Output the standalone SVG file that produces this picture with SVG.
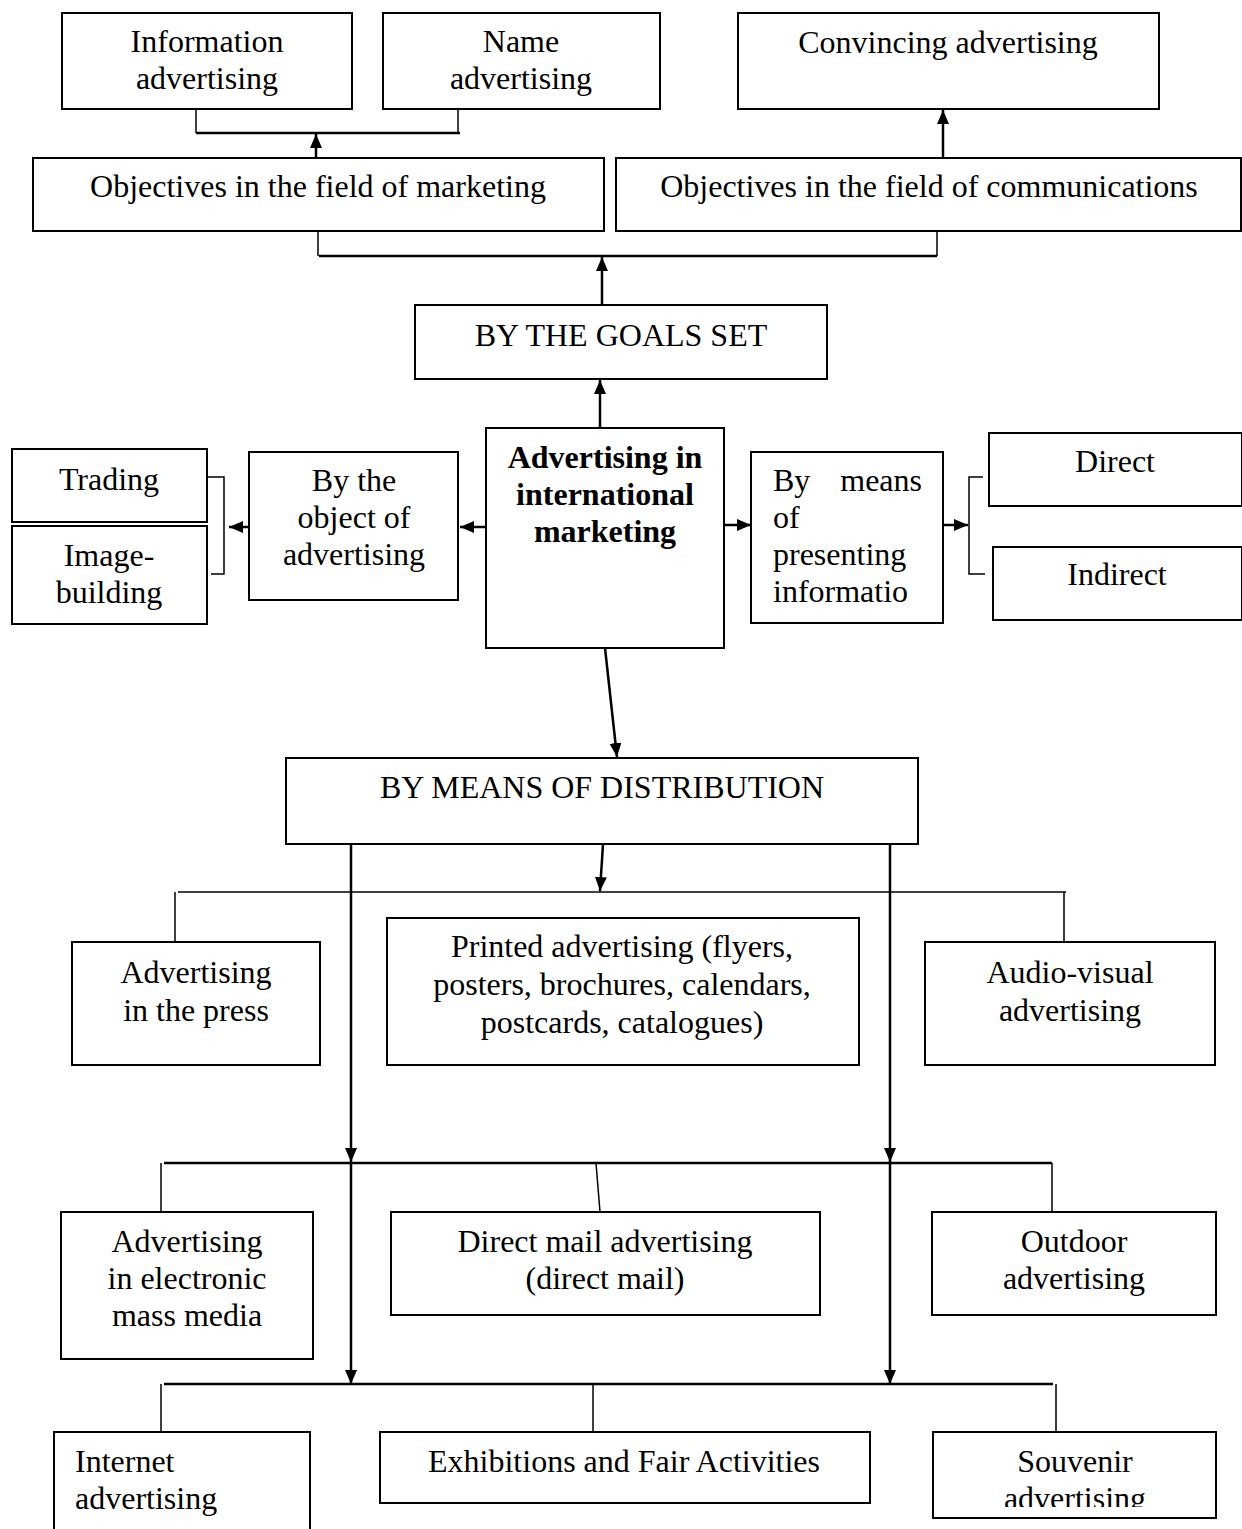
<svg xmlns="http://www.w3.org/2000/svg" width="1242" height="1529" viewBox="0 0 1242 1529">
  <style>
    .box { fill: #fff; stroke: #000; stroke-width: 2; }
    .t { font-family: "Liberation Serif", "Times New Roman", serif; font-size: 32px; fill: #000; }
    .c { text-anchor: middle; }
    .b { font-weight: bold; }
    .thin { fill: none; stroke: #000; stroke-width: 1.5; }
    .bus { fill: none; stroke: #000; stroke-width: 2.5; }
    .arr { fill: none; stroke: #000; stroke-width: 2.5; marker-end: url(#head); }
  </style>
  <defs>
    <marker id="head" viewBox="0 0 14 12" refX="14" refY="6" markerWidth="14" markerHeight="12" markerUnits="userSpaceOnUse" orient="auto">
      <path d="M0,0 L14,6 L0,12 Z" fill="#000"/>
    </marker>
    <clipPath id="souvenirClip">
      <rect x="930" y="1430" width="290" height="77"/>
    </clipPath>
  </defs>
  <rect width="1242" height="1529" fill="#fff"/>

  <!-- connectors -->
  <g id="connectors">
    <!-- marketing objectives -> information / name advertising -->
    <path class="thin" d="M196,109 V133 M458,109 V133"/>
    <path class="bus" d="M196,133 H460"/>
    <line class="arr" x1="316" y1="158" x2="316" y2="134"/>
    <!-- communications objectives -> convincing advertising -->
    <line class="arr" x1="943" y1="158" x2="943" y2="110"/>
    <!-- goals set -> objectives -->
    <path class="thin" d="M318,231 V256 M937,231 V256"/>
    <path class="bus" d="M319,256 H937"/>
    <line class="arr" x1="602" y1="305" x2="602" y2="257"/>
    <!-- centre -> goals set -->
    <line class="arr" x1="600" y1="428" x2="600" y2="380"/>
    <!-- centre -> object of advertising -> trading / image-building -->
    <line class="arr" x1="486" y1="527" x2="460" y2="527"/>
    <line class="arr" x1="249" y1="527" x2="229" y2="527"/>
    <path class="thin" d="M207,477 H224 V574 H211"/>
    <!-- centre -> means of presenting -> direct / indirect -->
    <line class="arr" x1="724" y1="525" x2="751" y2="525"/>
    <line class="arr" x1="943" y1="525" x2="968" y2="525"/>
    <path class="thin" d="M983,477 H969 V574 H985"/>
    <!-- centre -> distribution -->
    <line class="arr" x1="605" y1="648" x2="617" y2="757"/>
    <!-- distribution -> first row -->
    <line class="arr" x1="603" y1="844" x2="600" y2="891"/>
    <path class="thin" d="M178,892 H1066 M175,892 V942 M1064,892 V942"/>
    <!-- long trunks down to second and third rows -->
    <line class="arr" x1="351" y1="844" x2="351" y2="1162"/>
    <line class="arr" x1="890" y1="844" x2="890" y2="1162"/>
    <line class="arr" x1="351" y1="1163" x2="351" y2="1384"/>
    <line class="arr" x1="890" y1="1163" x2="890" y2="1384"/>
    <!-- second row -->
    <path class="bus" d="M164,1163 H1052"/>
    <path class="thin" d="M161,1163 V1212 M596,1163 L600,1212 M1052,1163 V1212"/>
    <!-- third row -->
    <path class="bus" d="M164,1384 H1053"/>
    <path class="thin" d="M161,1384 V1432 M593,1384 V1432 M1056,1384 V1432"/>
  </g>

  <g id="info-advertising">
    <rect class="box" x="62" y="13" width="290" height="96"/>
    <text class="t c" x="207" y="52">Information</text>
    <text class="t c" x="207" y="89">advertising</text>
  </g>
  <g id="name-advertising">
    <rect class="box" x="383" y="13" width="277" height="96"/>
    <text class="t c" x="521" y="52">Name</text>
    <text class="t c" x="521" y="89">advertising</text>
  </g>
  <g id="convincing-advertising">
    <rect class="box" x="738" y="13" width="421" height="96"/>
    <text class="t c" x="948" y="53">Convincing advertising</text>
  </g>
  <g id="marketing-objectives">
    <rect class="box" x="33" y="158" width="571" height="73"/>
    <text class="t c" x="318" y="197">Objectives in the field of marketing</text>
  </g>
  <g id="communication-objectives">
    <rect class="box" x="616" y="158" width="625" height="73"/>
    <text class="t c" x="929" y="197">Objectives in the field of communications</text>
  </g>
  <g id="goals-set">
    <rect class="box" x="415" y="305" width="412" height="74"/>
    <text class="t c" x="621" y="346">BY THE GOALS SET</text>
  </g>
  <g id="international-advertising">
    <rect class="box" x="486" y="428" width="238" height="220"/>
    <text class="t c b" x="605" y="468">Advertising in</text>
    <text class="t c b" x="605" y="505">international</text>
    <text class="t c b" x="605" y="542">marketing</text>
  </g>
  <g id="object-of-advertising">
    <rect class="box" x="249" y="452" width="209" height="148"/>
    <text class="t c" x="354" y="491">By the</text>
    <text class="t c" x="354" y="528">object of</text>
    <text class="t c" x="354" y="565">advertising</text>
  </g>
  <g id="trading">
    <rect class="box" x="12" y="449" width="195" height="73"/>
    <text class="t c" x="109" y="490">Trading</text>
  </g>
  <g id="image-building">
    <rect class="box" x="12" y="526" width="195" height="98"/>
    <text class="t c" x="109" y="566">Image-</text>
    <text class="t c" x="109" y="603">building</text>
  </g>
  <g id="presenting-information">
    <rect class="box" x="751" y="452" width="192" height="171"/>
    <text class="t" x="773" y="491">By</text>
    <text class="t" x="922" y="491" text-anchor="end">means</text>
    <text class="t" x="773" y="528">of</text>
    <text class="t" x="773" y="565">presenting</text>
    <text class="t" x="773" y="602">informatio</text>
  </g>
  <g id="direct">
    <rect class="box" x="989" y="433" width="253" height="73"/>
    <text class="t c" x="1115" y="472">Direct</text>
  </g>
  <g id="indirect">
    <rect class="box" x="993" y="547" width="249" height="73"/>
    <text class="t c" x="1117" y="585">Indirect</text>
  </g>
  <g id="means-of-distribution">
    <rect class="box" x="286" y="758" width="632" height="86"/>
    <text class="t c" x="602" y="798">BY MEANS OF DISTRIBUTION</text>
  </g>
  <g id="press-advertising">
    <rect class="box" x="72" y="942" width="248" height="123"/>
    <text class="t c" x="196" y="983">Advertising</text>
    <text class="t c" x="196" y="1021">in the press</text>
  </g>
  <g id="printed-advertising">
    <rect class="box" x="387" y="918" width="472" height="147"/>
    <text class="t c" x="622" y="957">Printed advertising (flyers,</text>
    <text class="t c" x="622" y="995">posters, brochures, calendars,</text>
    <text class="t c" x="622" y="1033">postcards, catalogues)</text>
  </g>
  <g id="audio-visual-advertising">
    <rect class="box" x="925" y="942" width="290" height="123"/>
    <text class="t c" x="1070" y="983">Audio-visual</text>
    <text class="t c" x="1070" y="1021">advertising</text>
  </g>
  <g id="electronic-media-advertising">
    <rect class="box" x="61" y="1212" width="252" height="147"/>
    <text class="t c" x="187" y="1252">Advertising</text>
    <text class="t c" x="187" y="1289">in electronic</text>
    <text class="t c" x="187" y="1326">mass media</text>
  </g>
  <g id="direct-mail-advertising">
    <rect class="box" x="391" y="1212" width="429" height="103"/>
    <text class="t c" x="605" y="1252">Direct mail advertising</text>
    <text class="t c" x="605" y="1289">(direct mail)</text>
  </g>
  <g id="outdoor-advertising">
    <rect class="box" x="932" y="1212" width="284" height="103"/>
    <text class="t c" x="1074" y="1252">Outdoor</text>
    <text class="t c" x="1074" y="1289">advertising</text>
  </g>
  <g id="internet-advertising">
    <rect class="box" x="54" y="1432" width="256" height="130"/>
    <text class="t" x="75" y="1472">Internet</text>
    <text class="t" x="75" y="1509">advertising</text>
  </g>
  <g id="exhibitions">
    <rect class="box" x="380" y="1432" width="490" height="71"/>
    <text class="t c" x="624" y="1472">Exhibitions and Fair Activities</text>
  </g>
  <g id="souvenir-advertising">
    <rect class="box" x="933" y="1432" width="283" height="86"/>
    <g clip-path="url(#souvenirClip)">
      <text class="t c" x="1075" y="1472">Souvenir</text>
      <text class="t c" x="1075" y="1509">advertising</text>
    </g>
  </g>
</svg>
